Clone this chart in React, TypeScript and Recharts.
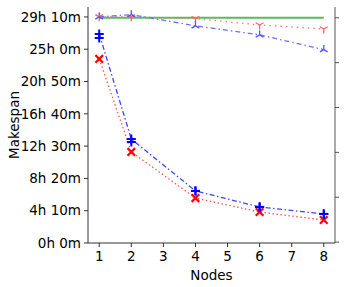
import { LineChart, Line, XAxis, YAxis, Label } from "recharts";

// node counts
const nodes = [1, 2, 4, 6, 8];

// makespan in minutes (left axis)
const plusA = [1618, 805, 403, 279, 225];
const plusB = [1587, 782, 403, 279, 225];
const cross = [1425, 705, 348, 240, 178];

// right axis series
const flat = [5.0, 5.0, 5.0, 5.0, 5.0];
const triDown = [5.02, 5.02, 4.98, 4.84, 4.75];
const triUp = [5.02, 5.07, 4.82, 4.62, 4.29];

const leftTicks = [0, 250, 500, 750, 1000, 1250, 1500, 1750];
const rightTicks = [0, 1, 2, 3, 4, 5];
const xTicks = [1, 2, 3, 4, 5, 6, 7, 8];

const data = nodes.map((n, i) => ({
  n,
  plusA: plusA[i],
  plusB: plusB[i],
  cross: cross[i],
  flat: flat[i],
  triDown: triDown[i],
  triUp: triUp[i],
}));

const fmt = (m: number) => `${Math.floor(m / 60)}h ${m % 60}m`;

const font = "DejaVu Sans, sans-serif";

const PlusDot = (color: string) => (p: any) => {
  const { cx, cy, index } = p;
  const s = 4.5;
  return (
    <g key={index}>
      <line x1={cx - s} y1={cy} x2={cx + s} y2={cy} stroke={color} strokeWidth={2} />
      <line x1={cx} y1={cy - s} x2={cx} y2={cy + s} stroke={color} strokeWidth={2} />
    </g>
  );
};

const CrossDot = (p: any) => {
  const { cx, cy, index } = p;
  const s = 3.8;
  return (
    <g key={index}>
      <line x1={cx - s} y1={cy - s} x2={cx + s} y2={cy + s} stroke="#ff0000" strokeWidth={2.2} />
      <line x1={cx - s} y1={cy + s} x2={cx + s} y2={cy - s} stroke="#ff0000" strokeWidth={2.2} />
    </g>
  );
};

const TriDot = (color: string, up: boolean) => (p: any) => {
  const { cx, cy, index } = p;
  const s = 4.5;
  const d = up ? -1 : 1;
  return (
    <g key={index} stroke={color} strokeWidth={1.3}>
      <line x1={cx} y1={cy} x2={cx} y2={cy + d * s} />
      <line x1={cx} y1={cy} x2={cx - s * 0.87} y2={cy - d * s * 0.5} />
      <line x1={cx} y1={cy} x2={cx + s * 0.87} y2={cy - d * s * 0.5} />
    </g>
  );
};

export default function App() {
  return (
    <div style={{ position: "absolute", left: 0, top: 0, fontFamily: font }}>
      <LineChart
        width={345}
        height={287}
        data={data}
        margin={{ top: 7, right: 0, left: 0, bottom: 0 }}
      >
        <XAxis
          dataKey="n"
          type="number"
          domain={[0.65, 8.35]}
          ticks={xTicks}
          allowDataOverflow
          height={44}
          tickSize={4}
          tickMargin={4}
          stroke="#333"
          tick={{ fill: "#000", fontSize: 13.5, fontFamily: font }}
        >
          <Label value="Nodes" position="insideBottom" offset={7} fill="#000" fontSize={13.5} fontFamily={font} />
        </XAxis>
        <XAxis
          xAxisId="top"
          dataKey="n"
          type="number"
          domain={[0.65, 8.35]}
          orientation="top"
          height={0}
          tick={false}
          tickLine={false}
          stroke="#333"
        />
        <YAxis
          yAxisId="left"
          domain={[0, 1827]}
          ticks={leftTicks}
          allowDataOverflow
          width={88}
          tickSize={4}
          tickMargin={3}
          tickFormatter={fmt}
          stroke="#333"
          tick={{ fill: "#000", fontSize: 13.5, fontFamily: font }}
        >
          <Label value="Makespan" angle={-90} position="center" dx={-30} fill="#000" fontSize={13.5} fontFamily={font} />
        </YAxis>
        <YAxis
          yAxisId="right"
          orientation="right"
          domain={[-0.02, 5.24]}
          ticks={rightTicks}
          allowDataOverflow
          width={10}
          tickSize={4}
          tickFormatter={() => ""}
          stroke="#555"
        />
        <Line
          yAxisId="right"
          dataKey="flat"
          stroke="#5cb85c"
          strokeWidth={2}
          dot={false}
          isAnimationActive={false}
        />
        <Line
          yAxisId="right"
          dataKey="triDown"
          stroke="#ff7777"
          strokeWidth={1.3}
          strokeDasharray="1.5 4"
          dot={TriDot("#ff6666", false)}
          isAnimationActive={false}
        />
        <Line
          yAxisId="right"
          dataKey="triUp"
          stroke="#6f6fff"
          strokeWidth={1.3}
          strokeDasharray="5 3 1.5 3"
          dot={TriDot("#5555ff", true)}
          isAnimationActive={false}
        />
        <Line
          yAxisId="left"
          dataKey="cross"
          stroke="#ff5555"
          strokeWidth={1.3}
          strokeDasharray="1.5 2.5"
          dot={CrossDot}
          isAnimationActive={false}
        />
        <Line
          yAxisId="left"
          dataKey="plusB"
          stroke="none"
          dot={PlusDot("#0000ff")}
          isAnimationActive={false}
        />
        <Line
          yAxisId="left"
          dataKey="plusA"
          stroke="#4444ff"
          strokeWidth={1.3}
          strokeDasharray="5 2.5 1.5 2.5"
          dot={PlusDot("#0000ff")}
          isAnimationActive={false}
        />
      </LineChart>
    </div>
  );
}
